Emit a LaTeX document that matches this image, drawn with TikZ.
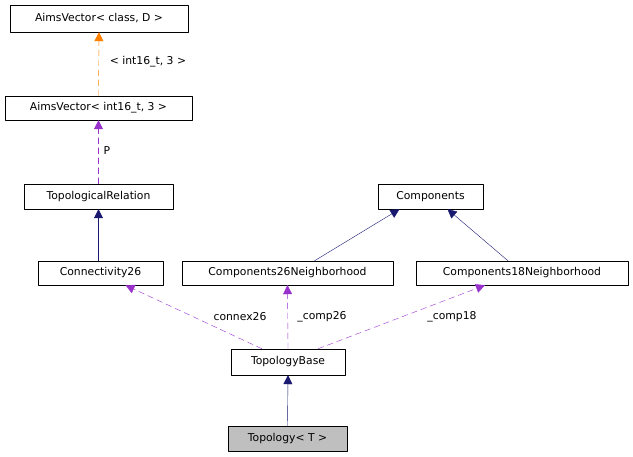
\documentclass[tikz,border=0pt]{standalone}
\usepackage{fontspec}
\setmainfont{DejaVu Sans}
\usetikzlibrary{arrows.meta}
\begin{document}
\begin{tikzpicture}[x=1pt,y=-1pt,line cap=round,line join=round,
  box/.style={draw,rectangle,inner sep=0pt,font=\fontsize{10.8}{13}\selectfont},
  lbl/.style={font=\fontsize{10.8}{13}\selectfont},
  inh/.style={draw={rgb,255:red,25;green,25;blue,112},-{Triangle[length=9pt,width=9pt]}},
  use/.style={draw={rgb,255:red,153;green,50;blue,204},dash pattern=on 6pt off 4pt,-{Triangle[length=9pt,width=9pt]}},
  tpl/.style={draw=orange,dash pattern=on 6pt off 4pt,-{Triangle[length=9pt,width=9pt]}}]
\useasboundingbox (0,0) rectangle (633,457);
\node[box,minimum width=178pt,minimum height=27pt] (avc) at (99,18.5) {AimsVector< class, D >};
\node[box,minimum width=187pt,minimum height=24pt] (avi) at (98.5,108) {AimsVector< int16\_t, 3 >};
\node[box,minimum width=149pt,minimum height=25pt] (topr) at (98.5,196.5) {TopologicalRelation};
\node[box,minimum width=125pt,minimum height=24pt] (con) at (100.5,273) {Connectivity26};
\node[box,minimum width=105pt,minimum height=25pt] (comp) at (430.5,196.5) {Components};
\node[box,minimum width=211pt,minimum height=24pt] (c26) at (287.5,273) {Components26Neighborhood};
\node[box,minimum width=212pt,minimum height=24pt] (c18) at (522,273) {Components18Neighborhood};
\node[box,minimum width=114pt,minimum height=26pt] (tb) at (288,362) {TopologyBase};
\node[box,fill={rgb,255:red,191;green,191;blue,191},minimum width=119pt,minimum height=25pt] (top) at (287.5,438.5) {Topology< T >};
% templates and uses
\draw[tpl] (avi.north) -- (avc.south);
\node[lbl] (l1) at (148,62) {< int16\_t, 3 >};
\draw[use] (topr.north) -- (avi.south);
\node[lbl] (l2) at (107,151) {P};
\draw[use] ([xshift=-26pt]tb.north) -- ([xshift=25pt]con.south);
\node[lbl] (l3) at (240,317) {connex26};
\draw[use] (tb.north) -- (c26.south);
\node[lbl] (l4) at (322,317) {\_comp26};
\draw[use] ([xshift=30pt]tb.north) -- ([xshift=-37pt]c18.south);
\node[lbl] (l5) at (452,317) {\_comp18};
% inheritance
\draw[inh] ([xshift=-2pt]con.north) -- (topr.south);
\draw[inh] ([xshift=27pt]c26.north) -- ([xshift=-31pt]comp.south);
\draw[inh] ([xshift=-14pt]c18.north) -- ([xshift=17pt]comp.south);
\draw[inh] (top.north) -- (tb.south);
\end{tikzpicture}
\end{document}
